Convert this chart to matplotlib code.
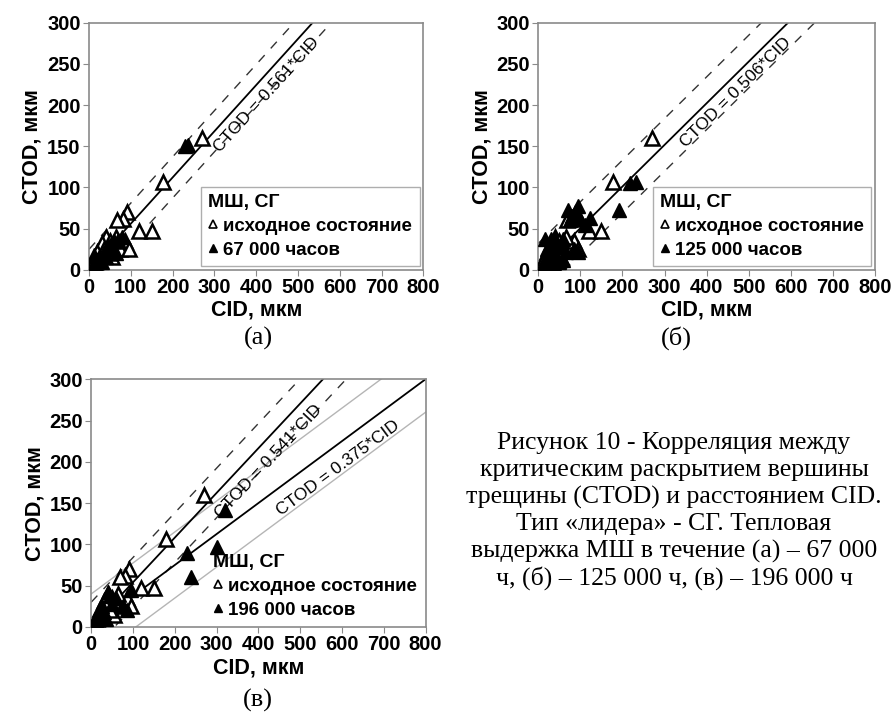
import numpy as np
import matplotlib.pyplot as plt
from matplotlib.lines import Line2D

plt.rcParams['font.family'] = ['Liberation Sans', 'DejaVu Sans']

# исходное состояние (одни и те же точки на всех трёх графиках)
init_cid = [270, 178, 90, 82, 68, 120, 150, 40, 30, 20, 50, 60, 75, 55, 15, 35, 85, 45, 65, 25, 10, 95]
init_ctod = [160, 107, 70, 62, 60, 47, 47, 40, 32, 22, 35, 30, 25, 15, 10, 25, 35, 20, 40, 12, 8, 25]

# (а) 67 000 часов
a_cid = [230, 236, 78, 70, 60, 45, 35, 25, 15, 10, 20, 50, 30, 40, 65, 12, 55]
a_ctod = [150, 152, 40, 36, 35, 28, 22, 15, 8, 5, 12, 30, 10, 15, 20, 18, 25]

# (б) 125 000 часов
b_cid = [232, 218, 192, 122, 95, 88, 70, 75, 100, 60, 40, 30, 15, 20, 95, 85, 25, 35,
         45, 55, 65, 50, 30, 20, 10, 40, 60, 110, 80, 45]
b_ctod = [107, 105, 73, 63, 78, 70, 73, 60, 62, 38, 38, 38, 38, 25, 22, 25, 10, 20,
          15, 28, 22, 10, 30, 15, 5, 5, 12, 55, 65, 30]

# (в) 196 000 часов
c_cid = [320, 300, 230, 240, 40, 45, 60, 75, 85, 20, 10, 25, 35, 95, 30, 50, 15]
c_ctod = [142, 97, 90, 60, 42, 38, 35, 25, 20, 15, 5, 25, 10, 45, 18, 28, 10]

# аппроксимации: наклон и ширина полосы
a_fit = [(0.561, 25)]
b_fit = [(0.506, 32)]
c_fit = [(0.541, 30), (0.375, 40)]

x_ticks = np.arange(0, 801, 100)
y_ticks = np.arange(0, 301, 50)

caption = ['Рисунок 10 - Корреляция между',
           'критическим раскрытием вершины',
           'трещины (CTOD) и расстоянием CID.',
           'Тип «лидера» - СГ. Тепловая',
           'выдержка МШ в течение (а) – 67 000',
           'ч, (б) – 125 000 ч, (в) – 196 000 ч']

fig = plt.figure(figsize=(8.94, 7.12), dpi=100)


def draw_panel(rect, cid, ctod, hours, fits, label_xy, band_styles, framed):
    ax = fig.add_axes(rect)
    ax.set_xlim(0, 800)
    ax.set_ylim(0, 300)
    ax.set_xticks(x_ticks)
    ax.set_yticks(y_ticks)
    for s in ax.spines.values():
        s.set_color('#8a8a8a')
        s.set_linewidth(1.2)
    ax.tick_params(direction='out', length=4, color='#8a8a8a', labelsize=14.5, pad=2)
    for lab in ax.get_xticklabels() + ax.get_yticklabels():
        lab.set_fontweight('bold')
    ax.set_xlabel('CID, мкм', fontsize=15.5, fontweight='bold', labelpad=2)
    ax.set_ylabel('CTOD, мкм', fontsize=15.5, fontweight='bold', labelpad=3)

    xx = np.array([0, 800])
    for (k, band), (tx, ty), style in zip(fits, label_xy, band_styles):
        ax.plot(xx, k * xx, color='black', lw=1.3, zorder=2)
        ax.plot(xx, k * xx + band, zorder=1, **style)
        ax.plot(xx, k * xx - band, zorder=1, **style)
        ax.text(tx, ty, 'CTOD = %.3f*CID' % k, fontsize=12.5,
                rotation=np.degrees(np.arctan(k)), transform_rotates_text=True,
                rotation_mode='anchor', ha='center', va='center', zorder=3)

    ax.plot(init_cid, init_ctod, ls='none', marker='^', ms=10, mfc='white',
            mec='black', mew=1.8, zorder=4)
    ax.plot(cid, ctod, ls='none', marker='^', ms=10, mfc='black',
            mec='black', zorder=5)

    handles = [Line2D([], [], ls='none', marker='^', ms=5.5, mfc='white', mec='black', mew=1.2),
               Line2D([], [], ls='none', marker='^', ms=5.5, mfc='black', mec='black')]
    leg = ax.legend(handles, ['исходное состояние', hours], title='МШ, СГ',
                    loc='lower right', frameon=framed, fancybox=False,
                    prop={'weight': 'bold', 'size': 13.5},
                    title_fontproperties={'weight': 'bold', 'size': 14},
                    alignment='left', handlelength=0.5, handletextpad=0.3,
                    borderaxespad=0.2 if framed else 0.05, borderpad=0.4,
                    labelspacing=0.35)
    leg.get_frame().set_edgecolor('#9a9a9a')
    leg.get_frame().set_linewidth(1.0)
    return ax


dash = dict(color='#333333', lw=1.0, ls=(0, (6.5, 6.5)))
grey = dict(color='#b5b5b5', lw=1.0, ls='-')

draw_panel([0.0996, 0.621, 0.374, 0.347], a_cid, a_ctod, '67 000 часов',
           a_fit, [(425, 213)], [dash], True)
draw_panel([0.602, 0.621, 0.377, 0.347], b_cid, b_ctod, '125 000 часов',
           b_fit, [(468, 216)], [dash], True)
draw_panel([0.102, 0.1194, 0.374, 0.348], c_cid, c_ctod, '196 000 часов',
           c_fit, [(425, 200), (592, 192)], [dash, grey], False)

serif = ['Liberation Serif', 'DejaVu Serif']
fig.text(258 / 894, 1 - 338 / 712, '(а)', family=serif, fontsize=19, ha='center', va='center')
fig.text(676 / 894, 1 - 338 / 712, '(б)', family=serif, fontsize=19, ha='center', va='center')
fig.text(258 / 894, 1 - 700 / 712, '(в)', family=serif, fontsize=19, ha='center', va='center')

for i, line in enumerate(caption):
    fig.text(674 / 894, 1 - (443 + 27 * i) / 712, line, family=serif, fontsize=18.5,
             ha='center', va='center')

fig.savefig('out.png', dpi=100, facecolor='white')
